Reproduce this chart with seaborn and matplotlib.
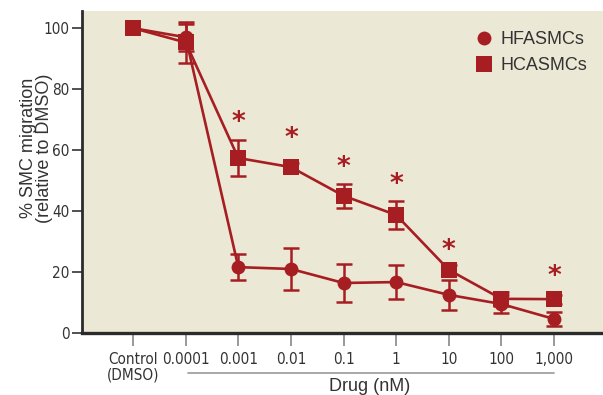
import numpy as np
import pandas as pd
import seaborn as sns
import matplotlib.pyplot as plt

# data
doses = ['Control\n(DMSO)', '0.0001', '0.001', '0.01', '0.1', '1', '10', '100', '1,000']
hfa_mean = [100, 97, 21.6, 21.0, 16.4, 16.7, 12.5, 9.5, 4.6]
hfa_err = [0, 4.5, 4.3, 7.0, 6.2, 5.6, 5.0, 3.0, 2.3]
hca_mean = [100, 95.3, 57.4, 54.4, 45.0, 38.7, 20.7, 11.2, 11.1]
hca_err = [0, 6.8, 5.8, 1.2, 4.0, 4.7, 1.5, 2.2, 1.5]
star_idx = [2, 3, 4, 5, 6, 8]
star_y = [69, 63.5, 54, 48.5, 27, 18.5]

red = '#A61E22'
bg = '#ECE8D6'

sns.set_style('white')
plt.rcParams['font.family'] = ['DejaVu Sans']
plt.rcParams['font.stretch'] = 'condensed'

x = np.arange(len(doses))
df = pd.DataFrame({
    'pos': np.concatenate([x, x]),
    'val': hfa_mean + hca_mean,
    'cell': ['HFASMCs'] * len(x) + ['HCASMCs'] * len(x),
})

fig = plt.figure(figsize=(6.03, 3.95), dpi=100)
ax = fig.add_axes([0.136, 0.157, 0.864, 0.815])
ax.set_facecolor(bg)

sns.lineplot(data=df, x='pos', y='val', hue='cell', style='cell',
             palette=[red, red], markers={'HFASMCs': 'o', 'HCASMCs': 's'},
             dashes=False, lw=1.9, markeredgewidth=0, ax=ax, legend=False)
for l, m in zip(ax.lines, [10, 11.5]):
    l.set_markersize(m)

ax.errorbar(x[1:], hfa_mean[1:], yerr=hfa_err[1:], fmt='none', ecolor=red,
            elinewidth=1.8, capsize=6, capthick=1.8, zorder=1)
ax.errorbar(x[1:], hca_mean[1:], yerr=hca_err[1:], fmt='none', ecolor=red,
            elinewidth=1.8, capsize=6, capthick=1.8, zorder=1)

for i, yy in zip(star_idx, star_y):
    ax.text(i, yy, '*', color=red, fontsize=19, ha='center', va='center',
            family='DejaVu Sans', stretch='normal', fontweight='bold')

# legend
ax.plot([], [], 'o', color=red, ms=10, mew=0, label='HFASMCs')
ax.plot([], [], 's', color=red, ms=11, mew=0, label='HCASMCs')
leg = ax.legend(loc='upper right', bbox_to_anchor=(1.0, 0.985), frameon=False,
                handlelength=1.0, handletextpad=0.45, labelspacing=0.5,
                borderaxespad=0.45,
                prop={'family': 'Liberation Sans', 'size': 13})
for t in leg.get_texts():
    t.set_color('#333333')

ax.set_xlim(-0.97, 8.93)
ax.set_ylim(0, 105.6)
ax.set_yticks([0, 20, 40, 60, 80, 100])
ax.set_xticks(x)
ax.set_xticklabels(doses, fontsize=11, color='#333333', linespacing=1.0)
ax.tick_params(axis='y', labelsize=11, labelcolor='#333333', length=7, width=1.2,
               color='#333333', left=True, pad=2)
ax.tick_params(axis='x', length=9, width=1.2, color='#888888', bottom=True, pad=5)
ax.set_xlabel('')

ax.set_ylabel('% SMC migration\n(relative to DMSO)', fontsize=13, color='#333333',
              family='Liberation Sans', stretch='normal', linespacing=0.95)
ax.yaxis.set_label_coords(-0.055, 0.575)

for s in ['top', 'right']:
    ax.spines[s].set_visible(False)
ax.spines['left'].set_linewidth(2)
ax.spines['left'].set_color('#2b2b2b')
ax.spines['bottom'].set_linewidth(2.4)
ax.spines['bottom'].set_color('#2b2b2b')

# bracket line under drug doses
tr = ax.get_xaxis_transform()
ax.plot([1.05, 8.0], [-0.124, -0.124], color='#999999', lw=1.2, transform=tr,
        clip_on=False)
ax.text(4.5, -0.165, 'Drug (nM)', transform=tr, ha='center', va='center',
        fontsize=13, color='#333333', family='Liberation Sans', stretch='normal')

fig.savefig('out.png', dpi=100, facecolor='white')
